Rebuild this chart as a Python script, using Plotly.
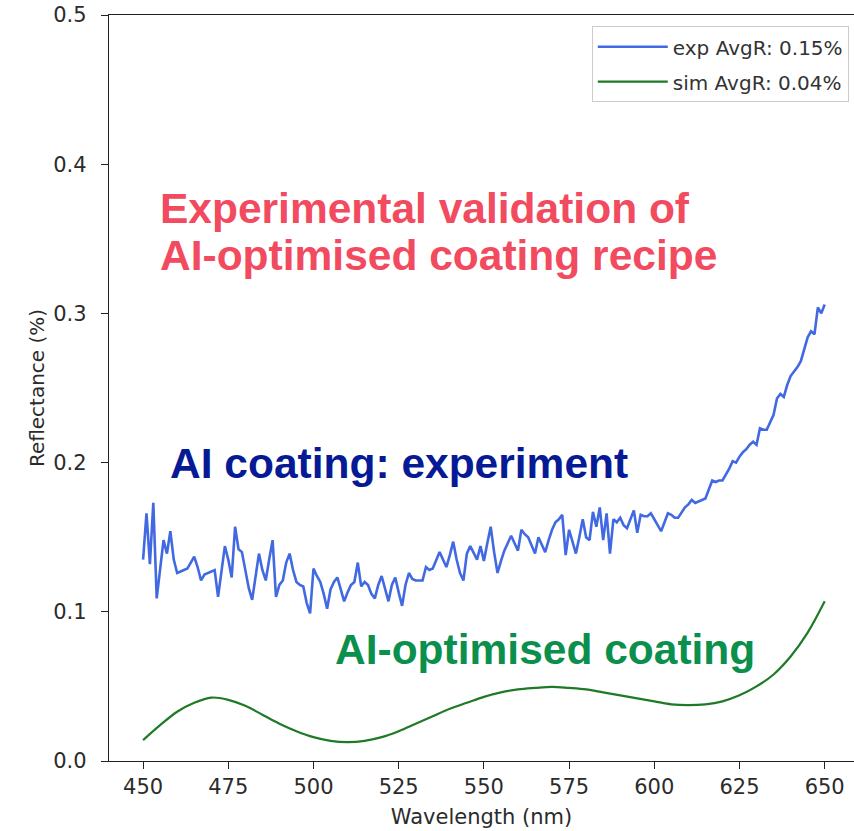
import plotly.graph_objects as go

# --- data ---
wl_exp = list(range(450, 651))
exp_R = [
    0.135, 0.166, 0.132, 0.173, 0.109, 0.130, 0.148, 0.139, 0.154, 0.135,  # 450-459
    0.126, 0.127, 0.128, 0.129, 0.133, 0.137, 0.130, 0.121, 0.125, 0.126,  # 460-469
    0.127, 0.128, 0.110, 0.128, 0.144, 0.135, 0.123, 0.157, 0.142, 0.140,  # 470-479
    0.128, 0.116, 0.108, 0.125, 0.139, 0.128, 0.121, 0.135, 0.148, 0.110,  # 480-489
    0.118, 0.121, 0.133, 0.139, 0.128, 0.120, 0.118, 0.117, 0.106, 0.099,  # 490-499
    0.129, 0.124, 0.120, 0.112, 0.102, 0.115, 0.120, 0.123, 0.114, 0.107,  # 500-509
    0.113, 0.118, 0.120, 0.133, 0.117, 0.120, 0.118, 0.112, 0.109, 0.118,  # 510-519
    0.124, 0.115, 0.107, 0.118, 0.123, 0.113, 0.104, 0.118, 0.126, 0.122,  # 520-529
    0.121, 0.121, 0.121, 0.130, 0.128, 0.129, 0.135, 0.140, 0.135, 0.130,  # 530-539
    0.138, 0.147, 0.135, 0.126, 0.121, 0.139, 0.144, 0.140, 0.135, 0.144,  # 540-549
    0.134, 0.146, 0.157, 0.140, 0.126, 0.134, 0.141, 0.146, 0.151, 0.146,  # 550-559
    0.141, 0.155, 0.152, 0.150, 0.145, 0.139, 0.150, 0.145, 0.140, 0.148,  # 560-569
    0.155, 0.160, 0.162, 0.165, 0.138, 0.155, 0.146, 0.139, 0.150, 0.162,  # 570-579
    0.150, 0.148, 0.167, 0.157, 0.170, 0.148, 0.166, 0.139, 0.162, 0.160,  # 580-589
    0.163, 0.158, 0.156, 0.162, 0.168, 0.153, 0.165, 0.164, 0.164, 0.166,  # 590-599
    0.162, 0.158, 0.154, 0.160, 0.166, 0.165, 0.163, 0.163, 0.167, 0.170,  # 600-609
    0.172, 0.175, 0.173, 0.174, 0.175, 0.176, 0.182, 0.188, 0.187, 0.188,  # 610-619
    0.188, 0.192, 0.196, 0.201, 0.200, 0.204, 0.207, 0.209, 0.212, 0.214,  # 620-629
    0.212, 0.223, 0.222, 0.222, 0.227, 0.232, 0.243, 0.246, 0.244, 0.252,  # 630-639
    0.258, 0.261, 0.264, 0.268, 0.276, 0.284, 0.288, 0.286, 0.304, 0.300,  # 640-649
    0.306,                                                                  # 650
]

wl_sim = list(range(450, 651, 5))
sim_R = [
    0.014, 0.024, 0.033, 0.039, 0.0425, 0.041, 0.037, 0.031, 0.025, 0.020,
    0.016, 0.0135, 0.0127, 0.0135, 0.016, 0.020, 0.025, 0.030, 0.035, 0.039,
    0.043, 0.046, 0.048, 0.049, 0.0497, 0.049, 0.048, 0.046, 0.044, 0.042,
    0.040, 0.038, 0.0375, 0.038, 0.040, 0.044, 0.050, 0.058, 0.070, 0.086,
    0.107,
]

series_names = ["exp AvgR: 0.15%", "sim AvgR: 0.04%"]
x_ticks = [450, 475, 500, 525, 550, 575, 600, 625, 650]
y_ticks = [0.0, 0.1, 0.2, 0.3, 0.4, 0.5]

BLUE = "#4169e1"
GREEN = "#1f7a26"
FONT = "DejaVu Sans"
TXT = "#2b2b2b"

fig = go.Figure()
fig.add_trace(go.Scatter(x=wl_exp, y=exp_R, mode="lines", name=series_names[0],
                         legendgroup="a",
                         line=dict(color=BLUE, width=2.6)))
fig.add_trace(go.Scatter(x=wl_sim, y=sim_R, mode="lines", name=series_names[1],
                         legendgroup="b",
                         line=dict(color=GREEN, width=2.2, shape="spline")))

ann_font = "Liberation Sans, Arial, sans-serif"
annots = [
    dict(text="<b>Experimental validation of</b>", x=454.3, y=0.3704, color="#f24a5f"),
    dict(text="<b>AI-optimised coating recipe</b>", x=454.3, y=0.3389, color="#f24a5f"),
    dict(text="<b>AI coating: experiment</b>", x=457.2, y=0.1994, color="#061a95"),
    dict(text="<b>AI-optimised coating</b>", x=505.6, y=0.0750, color="#0a8f4c"),
]
for a in annots:
    fig.add_annotation(text=a["text"], x=a["x"], y=a["y"], xref="x", yref="y",
                       xanchor="left", yanchor="middle", showarrow=False,
                       font=dict(family=ann_font, size=42.5, color=a["color"]))

fig.update_layout(
    width=854, height=831,
    margin=dict(l=109, r=0, t=15, b=70),
    plot_bgcolor="white", paper_bgcolor="white",
    font=dict(family=FONT, size=21, color=TXT),
    showlegend=True,
    legend=dict(x=0.993, y=0.985, xanchor="right", yanchor="top",
                bgcolor="white", bordercolor="#cccccc", borderwidth=1,
                font=dict(family=FONT, size=20, color="#333333"),
                itemwidth=70, tracegroupgap=6),
)
fig.update_xaxes(range=[440, 658.6], tickvals=x_ticks, ticks="outside", ticklen=7,
                 tickwidth=1.3, tickcolor="#222", showline=True, linecolor="#222",
                 linewidth=1.3, mirror=True, showgrid=False, zeroline=False,
                 automargin=False, tickfont=dict(family=FONT, size=21, color=TXT),
                 title=dict(text="Wavelength (nm)", standoff=10,
                            font=dict(family=FONT, size=21, color=TXT)))
fig.update_yaxes(range=[0, 0.5], tickvals=y_ticks, tickformat=".1f", ticks="outside",
                 ticklen=7, tickwidth=1.3, tickcolor="#222", showline=True,
                 linecolor="#222", linewidth=1.3, mirror=False, showgrid=False,
                 zeroline=False, automargin=False, ticklabelstandoff=10,
                 tickfont=dict(family=FONT, size=21, color=TXT),
                 title=dict(text="Reflectance (%)", standoff=3,
                            font=dict(family=FONT, size=20, color=TXT)))

fig.write_html("out.html")
